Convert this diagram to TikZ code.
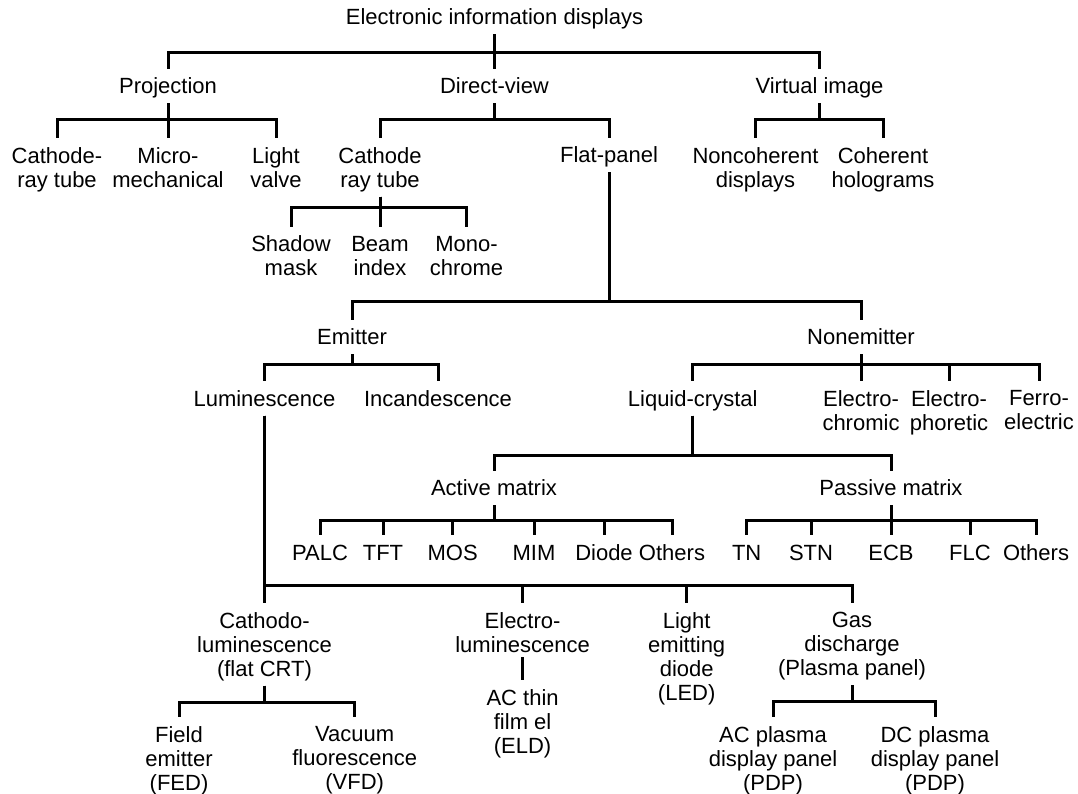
\documentclass[tikz,border=0pt]{standalone}
\usepackage{fontspec}
\setmainfont{Liberation Sans}

\begin{document}
\begin{tikzpicture}[
  x=1pt, y=-1pt,
  lbl/.style={anchor=north,inner xsep=2pt,inner ysep=0pt,font=\fontsize{22}{24}\selectfont},
  one/.style={lbl,text height=15.8pt,text depth=4.6pt},
  two/.style={lbl,align=center},
  link/.style={line width=3pt,shorten <=4.7pt,shorten >=9pt}
]
\useasboundingbox (0,0) rectangle (1078,794);

% levels 0 and 1
\node[one] (top) at (494.5,9) {Electronic information displays};
\node[one] (proj) at (168,78) {Projection};
\node[one] (dview) at (494.5,78) {Direct-view};
\node[one] (virt) at (819.5,78) {Virtual image};

% level 2
\node[two] (crtp) at (57,147) {Cathode-\\ray tube};
\node[two] (micro) at (168,147) {Micro-\\mechanical};
\node[two] (valve) at (276,147) {Light\\valve};
\node[two] (crt) at (380,147) {Cathode\\ray tube};
\node[one] (flat) at (609,147) {Flat-panel};
\node[two] (noncoh) at (755.5,147) {Noncoherent\\displays};
\node[two] (coh) at (883,147) {Coherent\\holograms};

\node[two] (shadow) at (291,235.7) {Shadow\\mask};
\node[two] (beam) at (380,235.7) {Beam\\index};
\node[two] (mono) at (466.5,235.7) {Mono-\\chrome};

% flat-panel branch
\node[one] (emit) at (352,328.7) {Emitter};
\node[one] (nonem) at (861,328.7) {Nonemitter};
\node[one] (lumi) at (264.5,390) {Luminescence};
\node[one] (incan) at (438,390) {Incandescence};
\node[one] (lc) at (692.7,390) {Liquid-crystal};
\node[two] (echrom) at (861,390) {Electro-\\chromic};
\node[two] (ephor) at (949,390) {Electro-\\phoretic};
\node[two] (ferro) at (1039,390) {Ferro-\\electric};

\node[one] (act) at (494,479.5) {Active matrix};
\node[one] (pass) at (891,479.5) {Passive matrix};
\node[one] (palc) at (320,544) {PALC};
\node[one] (tft) at (383,544) {TFT};
\node[one] (mos) at (452.7,544) {MOS};
\node[one] (mim) at (534,544) {MIM};
\node[one] (diode) at (604,544) {Diode};
\node[one] (aoth) at (672,544) {Others};
\node[one] (tn) at (746.7,544) {TN};
\node[one] (stn) at (811,544) {STN};
\node[one] (ecb) at (891,544) {ECB};
\node[one] (flc) at (970,544) {FLC};
\node[one] (poth) at (1036,544) {Others};

% luminescence branch
\node[two] (cath) at (264.5,612) {Cathodo-\\luminescence\\(flat CRT)};
\node[two] (elum) at (522.6,612) {Electro-\\luminescence};
\node[two] (led) at (686.7,612) {Light\\emitting\\diode\\(LED)};
\node[two] (gas) at (852,612) {Gas\\discharge\\(Plasma panel)};
\node[two] (acel) at (522.6,689) {AC thin\\film el\\(ELD)};
\node[two] (fed) at (179,726) {Field\\emitter\\(FED)};
\node[two] (vfd) at (354.7,726) {Vacuum\\fluorescence\\(VFD)};
\node[two] (acpdp) at (773,726) {AC plasma\\display panel\\(PDP)};
\node[two] (dcpdp) at (935,726) {DC plasma\\display panel\\(PDP)};

\draw[link] (top.south) -- ++(0,22.6) -| (proj.north);
\draw[link] (top.south) -- ++(0,22.6) -| (dview.north);
\draw[link] (top.south) -- ++(0,22.6) -| (virt.north);

\draw[link] (proj.south) -- ++(0,21.1) -| (crtp.north);
\draw[link] (proj.south) -- ++(0,21.1) -| (micro.north);
\draw[link] (proj.south) -- ++(0,21.1) -| (valve.north);
\draw[link] (dview.south) -- ++(0,21.1) -| (crt.north);
\draw[link] (dview.south) -- ++(0,21.1) -| (flat.north);
\draw[link] (virt.south) -- ++(0,21.1) -| (noncoh.north);
\draw[link] (virt.south) -- ++(0,21.1) -| (coh.north);

\draw[link] (crt.south) -- ++(0,15.6) -| (shadow.north);
\draw[link] (crt.south) -- ++(0,15.6) -| (beam.north);
\draw[link] (crt.south) -- ++(0,15.6) -| (mono.north);

\draw[link] (flat.south) -- ++(0,133.6) -| (emit.north);
\draw[link] (flat.south) -- ++(0,133.6) -| (nonem.north);
\draw[link] (emit.south) -- ++(0,14.9) -| (lumi.north);
\draw[link] (emit.south) -- ++(0,14.9) -| (incan.north);
\draw[link] (nonem.south) -- ++(0,14.9) -| (lc.north);
\draw[link] (nonem.south) -- ++(0,14.9) -| (echrom.north);
\draw[link] (nonem.south) -- ++(0,14.9) -| (ephor.north);
\draw[link] (nonem.south) -- ++(0,14.9) -| (ferro.north);

\draw[link] (lc.south) -- ++(0,44.6) -| (act.north);
\draw[link] (lc.south) -- ++(0,44.6) -| (pass.north);
\draw[link] (act.south) -- ++(0,20.1) -| (palc.north);
\draw[link] (act.south) -- ++(0,20.1) -| (tft.north);
\draw[link] (act.south) -- ++(0,20.1) -| (mos.north);
\draw[link] (act.south) -- ++(0,20.1) -| (mim.north);
\draw[link] (act.south) -- ++(0,20.1) -| (diode.north);
\draw[link] (act.south) -- ++(0,20.1) -| (aoth.north);
\draw[link] (pass.south) -- ++(0,20.1) -| (tn.north);
\draw[link] (pass.south) -- ++(0,20.1) -| (stn.north);
\draw[link] (pass.south) -- ++(0,20.1) -| (ecb.north);
\draw[link] (pass.south) -- ++(0,20.1) -| (flc.north);
\draw[link] (pass.south) -- ++(0,20.1) -| (poth.north);

\draw[link] (lumi.south) -- ++(0,174.6) -| (cath.north);
\draw[link] (lumi.south) -- ++(0,174.6) -| (elum.north);
\draw[link] (lumi.south) -- ++(0,174.6) -| (led.north);
\draw[link] (lumi.south) -- ++(0,174.6) -| (gas.north);
\draw[link] (elum.south) -- (acel.north);
\draw[link] (cath.south) -- ++(0,21.6) -| (fed.north);
\draw[link] (cath.south) -- ++(0,21.6) -| (vfd.north);
\draw[link] (gas.south) -- ++(0,21.6) -| (acpdp.north);
\draw[link] (gas.south) -- ++(0,21.6) -| (dcpdp.north);
\end{tikzpicture}
\end{document}
